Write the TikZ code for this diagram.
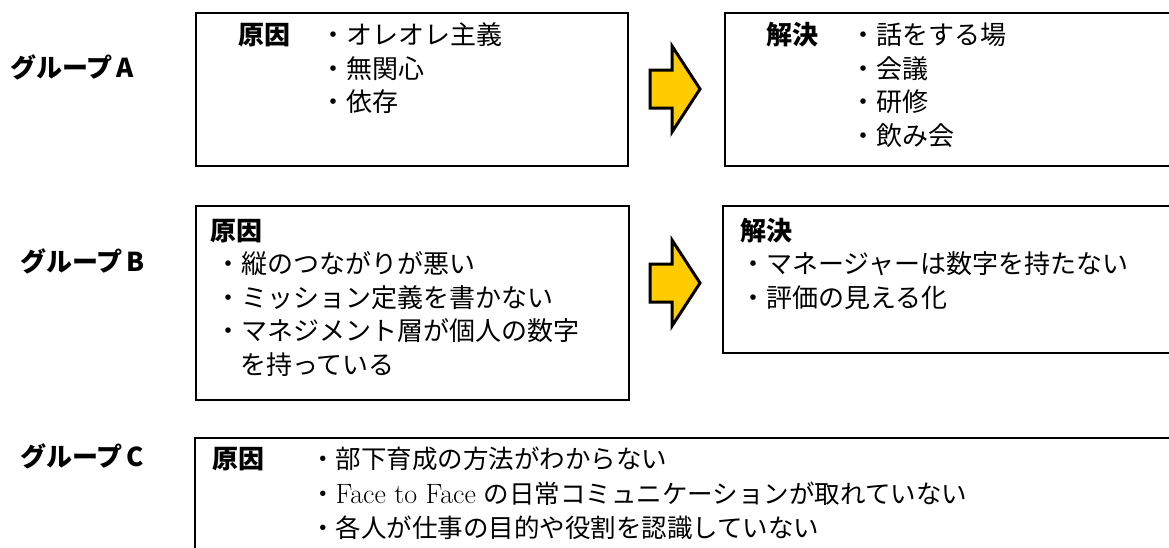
\documentclass[tikz,border=0pt]{standalone}
\usepackage{fontspec}
\newfontfamily\jp{Noto Sans CJK JP}
\definecolor{arrowyellow}{RGB}{255,204,0}
\tikzset{
  boxline/.style={draw=black, line width=1.8pt, rectangle, inner sep=0pt, anchor=north west},
  txt/.style={anchor=base west, inner sep=0pt, font=\jp\fontsize{26}{30}\selectfont},
  ctxt/.style={anchor=base west, inner sep=0pt, font=\jp\fontsize{25.5}{30}\selectfont},
  headtxt/.style={anchor=base west, inner sep=0pt, font=\jp\bfseries\fontsize{26}{30}\selectfont},
  grptxt/.style={anchor=base west, inner sep=0pt, font=\jp\bfseries\fontsize{26}{30}\selectfont},
  yarrow/.style={fill=arrowyellow, draw=black, line width=3pt, line join=miter}
}
\begin{document}
\begin{tikzpicture}[x=1pt,y=-1pt]
\useasboundingbox (0,0) rectangle (1169,547);
\clip (0,0) rectangle (1169,547);
\fill[white] (0,0) rectangle (1169,547);

% boxes
\node[boxline, minimum width=432pt, minimum height=153pt] (boxA1) at (195,12) {};
\node[boxline, minimum width=460pt, minimum height=153pt] (boxA2) at (724,12) {};
\node[boxline, minimum width=433pt, minimum height=194pt] (boxB1) at (195,205) {};
\node[boxline, minimum width=460pt, minimum height=147pt] (boxB2) at (722,205) {};
\node[boxline, minimum width=990pt, minimum height=130pt] (boxC) at (194,437) {};

% arrows
\draw[yarrow] (650,70) -- (672,70) -- (672,46) -- (700,89) -- (672,132) -- (672,108) -- (650,108) -- cycle;
\draw[yarrow] (650,264) -- (672,264) -- (672,240) -- (700,283) -- (672,326) -- (672,302) -- (650,302) -- cycle;

% group labels
\node[grptxt] (ga) at (10,77) {グループ\kern4pt A};
\node[grptxt] (gb) at (20,271) {グループ\kern4pt B};
\node[grptxt] (gc) at (20,466) {グループ\kern4pt C};

% group A
\node[headtxt] (a1h) at (238,44.5) {原因};
\node[txt] (a1l1) at (320,44.5) {・オレオレ主義};
\node[txt] (a1l2) at (320,78) {・無関心};
\node[txt] (a1l3) at (320,111.5) {・依存};

\node[headtxt] (a2h) at (766,44.5) {解決};
\node[txt] (a2l1) at (850,44.5) {・話をする場};
\node[txt] (a2l2) at (850,78) {・会議};
\node[txt] (a2l3) at (850,111.5) {・研修};
\node[txt] (a2l4) at (850,145) {・飲み会};

% group B
\node[headtxt] (b1h) at (210,240) {原因};
\node[txt] (b1l1) at (215,273.5) {・縦のつながりが悪い};
\node[txt] (b1l2) at (215,307) {・ミッション定義を書かない};
\node[txt] (b1l3) at (215,340.5) {・マネジメント層が個人の数字};
\node[txt] (b1l4) at (240,374) {を持っている};

\node[headtxt] (b2h) at (740,240) {解決};
\node[txt] (b2l1) at (740,273.5) {・マネージャーは数字を持たない};
\node[txt] (b2l2) at (740,307) {・評価の見える化};

% group C
\node[headtxt] (ch) at (212,468.5) {原因};
\node[ctxt] (cl1) at (310,468.5) {・部下育成の方法がわからない};
\node[ctxt] (cl2) at (310,503) {・{\rmfamily\fontsize{28}{30}\selectfont Face to Face}\kern8pt の日常コミュニケーションが取れていない};
\node[ctxt] (cl3) at (310,537) {・各人が仕事の目的や役割を認識していない};
\end{tikzpicture}
\end{document}
